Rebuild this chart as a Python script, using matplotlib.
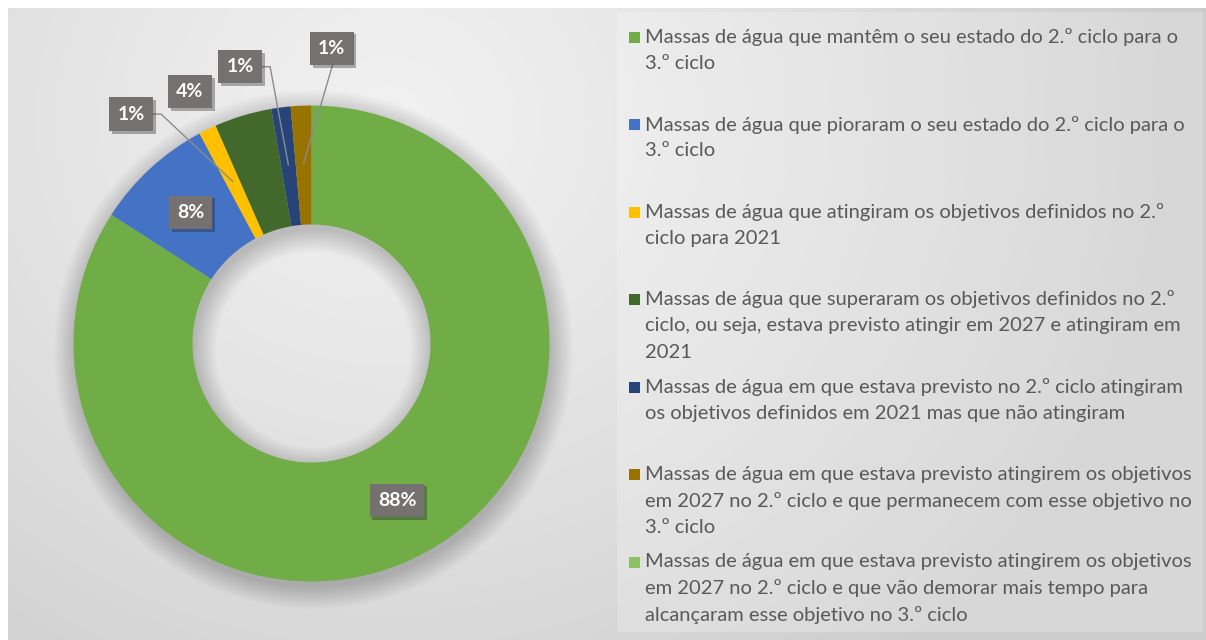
import numpy as np
import matplotlib
matplotlib.use("Agg")
import matplotlib.pyplot as plt
from matplotlib.patches import Rectangle, Wedge
import matplotlib.patheffects as pe

# ---------------- data ----------------
categories = [
    "Massas de água que mantêm o seu estado do 2.º ciclo para o\n3.º ciclo",
    "Massas de água que pioraram o seu estado do 2.º ciclo para o\n3.º ciclo",
    "Massas de água que atingiram os objetivos definidos no 2.º\nciclo para 2021",
    "Massas de água que superaram os objetivos definidos no 2.º\nciclo, ou seja, estava previsto atingir em 2027 e atingiram em\n2021",
    "Massas de água em que estava previsto no 2.º ciclo atingiram\nos objetivos definidos em 2021 mas que não atingiram",
    "Massas de água em que estava previsto atingirem os objetivos\nem 2027 no 2.º ciclo e que permanecem com esse objetivo no\n3.º ciclo",
    "Massas de água em que estava previsto atingirem os objetivos\nem 2027 no 2.º ciclo e que vão demorar mais tempo para\nalcançaram esse objetivo no 3.º ciclo",
]
shares = [84.1, 8.1, 1.2, 3.9, 1.3, 1.4, 0.0]
value_labels = ["88%", "8%", "1%", "4%", "1%", "1%", ""]
colors = ["#70AD47", "#4472C4", "#FFC000", "#43682B", "#264478", "#997300", "#8CC168"]

# ---------------- layout ----------------
W, H = 1206, 640
FONT = "Lato"
TXT = "#595959"
fig = plt.figure(figsize=(W / 100, H / 100), dpi=100)
fig.patch.set_facecolor("white")

bg = fig.add_axes([0, 0, 1, 1])
bg.set_xlim(0, W)
bg.set_ylim(H, 0)
bg.axis("off")
yy, xx = np.mgrid[8:H, 8:W]
d = np.hypot(xx - 390, (yy - 120) * 1.1)
v = 0.945 - 0.14 * np.clip(d / 780, 0, 1) ** 1.2
img = np.dstack([v, v, v])
bg.imshow(img, extent=(8, W, H, 8), origin="upper", aspect="auto", zorder=0)
# legend panel
bg.add_patch(Rectangle((617, 12), 586, 620, facecolor="white", alpha=0.22,
                       edgecolor="none", zorder=1))

# donut axes
R, cx, cy = 238, 311.5, 343.5
ax = fig.add_axes([(cx - R) / W, 1 - (cy + R) / H, 2 * R / W, 2 * R / H])
ax.patch.set_alpha(0)
ax.axis("off")

# soft shadow
for i in range(16):
    grow = i * 0.006
    ax.add_patch(Wedge((0.008, -0.025), 1.0 + grow, 0, 360, width=0.5 + 2 * grow,
                       facecolor="black", alpha=0.011, edgecolor="none", zorder=0,
                       clip_on=False))

wedges, _ = ax.pie(shares, colors=colors, startangle=90, counterclock=False,
                   radius=1.0, wedgeprops=dict(width=0.5, linewidth=0))
for w in wedges:
    w.set_zorder(2)
ax.set_xlim(-1, 1)
ax.set_ylim(-1, 1)
ax.set_aspect("auto")

def anchor(w, r=0.757):
    t = np.deg2rad((w.theta1 + w.theta2) / 2)
    return r * np.cos(t), r * np.sin(t)

# manual positions of the outside labels (layout only)
outside = {2: (-0.758, 0.964), 3: (-0.511, 1.058), 4: (-0.300, 1.163), 5: (0.085, 1.240)}
leader_color = "#8c8c8c"

for i, w in enumerate(wedges):
    if not value_labels[i]:
        continue
    if i in outside:
        px, py = outside[i]
    else:
        px, py = anchor(w, 0.75)
    t = ax.text(px, py, value_labels[i], ha="center", va="center", color="white",
                fontsize=14, fontweight="bold", family=FONT, zorder=6, clip_on=False,
                bbox=dict(boxstyle="square,pad=0.42", fc="#767171", ec="none"))
    t.get_bbox_patch().set_path_effects([pe.SimplePatchShadow(offset=(2, -2), alpha=0.35),
                                         pe.Normal()])
    ax_, ay_ = anchor(w)
    if i in (2, 4):
        x0 = px + 0.09
        ax.plot([x0, x0 + 0.036, ax_], [py, py, ay_], color=leader_color, lw=1,
                zorder=5, clip_on=False)
    elif i == 5:
        ax.plot([px + 0.005, ax_], [py - 0.065, ay_], color=leader_color, lw=1,
                zorder=5, clip_on=False)

# legend
entry_top = 37.0
entry_step = 87.5
line_step = 26.3
for i, (lab, col) in enumerate(zip(categories, colors)):
    y0 = entry_top + entry_step * i
    bg.add_patch(Rectangle((629, y0 - 5.5), 11, 11, facecolor=col, edgecolor="none", zorder=3))
    for j, line in enumerate(lab.split("\n")):
        bg.text(645, y0 + j * line_step, line, ha="left", va="center", color=TXT,
                fontsize=14.5, family=FONT, zorder=3)

fig.savefig("out.png", dpi=100)
